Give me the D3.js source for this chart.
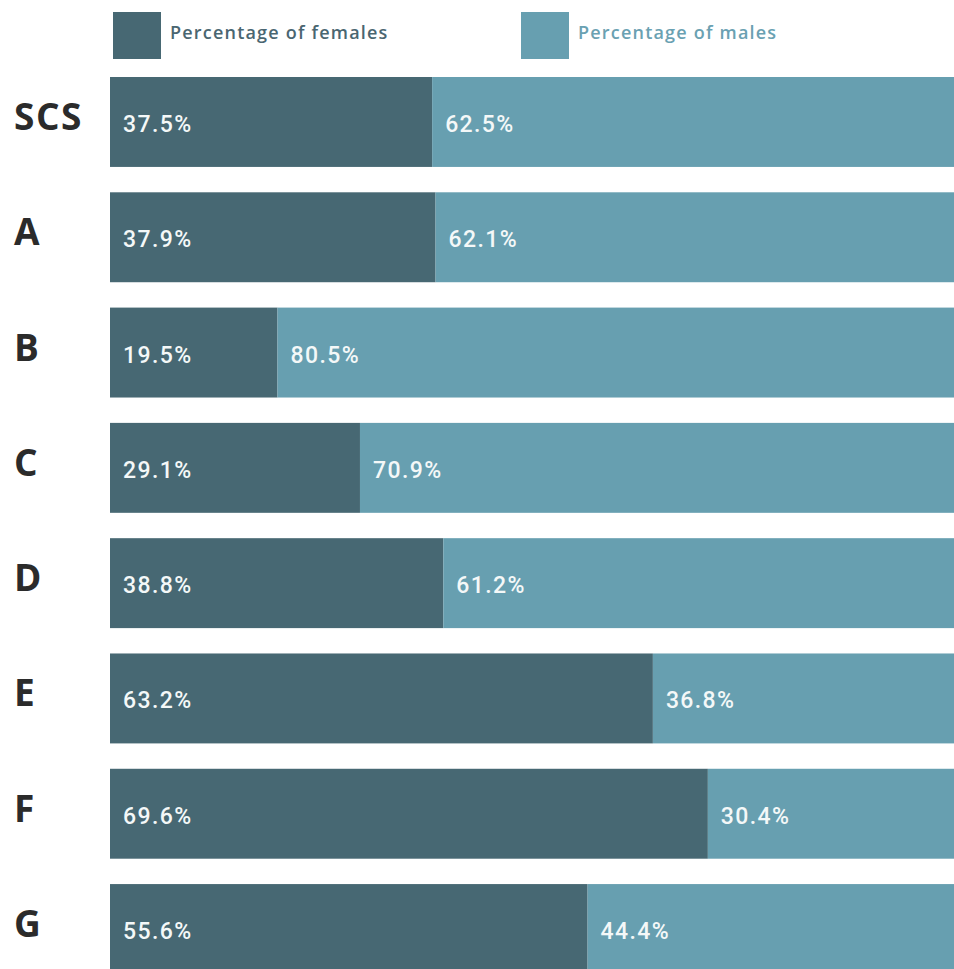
<!DOCTYPE html>
<html>
<head>
<meta charset="utf-8">
<script src="https://cdnjs.cloudflare.com/ajax/libs/d3/7.8.5/d3.min.js"></script>
<style>
  body { margin: 0; background: #fff; overflow: hidden; }
</style>
</head>
<body>
<div id="chart"></div>
<script>
(function () {

  // Data

  var groups = ["SCS", "A", "B", "C", "D", "E", "F", "G"]
  var females = [37.5, 37.9, 19.5, 29.1, 38.8, 63.2, 69.6, 55.6]
  var males = [62.5, 62.1, 80.5, 70.9, 61.2, 36.8, 30.4, 44.4]
  var seriesNames = ["Percentage of females", "Percentage of males"]

  var width = 954,
      height = 969

  var svg = d3.select("#chart").append("svg")
      .attr("width", width)
      .attr("height", height)

  // Scales

  var x = d3.scaleLinear()
    .domain([0, 100])
    .range([110, 969])

  var y = d3.scaleBand()
    .domain(groups)
    .range([77, 974])
    .paddingInner(0.22)

  var colorScale = d3.scaleOrdinal()
    .domain(seriesNames)
    .range(["#476873", "#679fb0"])

  var textColor = d3.scaleOrdinal()
    .domain(seriesNames)
    .range(["#4a6671", "#6aa1b2"])

  var rows = groups.map(function (g, i) {
    return { group: g, female: females[i], male: males[i] }
  })

  // Legend

  var legend = svg.selectAll(".legend")
    .data(seriesNames)
    .enter().append("g")
    .attr("class", "legend")
    .attr("transform", function (d, i) {
      return "translate(" + (i === 0 ? 113 : 521) + ",12)"
    })

  legend.append("rect")
    .attr("width", 48)
    .attr("height", 47)
    .attr("fill", function (d) { return colorScale(d) })

  legend.append("text")
    .attr("x", 57)
    .attr("y", 27)
    .attr("font-family", "'Open Sans', sans-serif")
    .attr("font-weight", 600)
    .attr("font-size", 18)
    .attr("letter-spacing", 1.2)
    .attr("fill", function (d) { return textColor(d) })
    .text(function (d) { return d })

  // Bars

  var row = svg.selectAll(".row")
    .data(rows)
    .enter().append("g")
    .attr("class", "row")
    .attr("transform", function (d) { return "translate(0," + y(d.group) + ")" })

  row.append("rect")
    .attr("x", x(0))
    .attr("width", function (d) { return x(d.female) - x(0) })
    .attr("height", y.bandwidth())
    .attr("fill", colorScale(seriesNames[0]))

  row.append("rect")
    .attr("x", function (d) { return x(d.female) })
    .attr("width", function (d) { return x(d.female + d.male) - x(d.female) })
    .attr("height", y.bandwidth())
    .attr("fill", colorScale(seriesNames[1]))

  var labelFont = "Roboto, sans-serif"

  row.append("text")
    .attr("x", x(0) + 13)
    .attr("y", y.bandwidth() / 2 + 10)
    .attr("font-family", labelFont)
    .attr("font-weight", 500)
    .attr("font-size", 23)
    .attr("letter-spacing", 1.4)
    .attr("fill", "#f4f8f8")
    .text(function (d) { return d.female.toFixed(1) + "%" })

  row.append("text")
    .attr("x", function (d) { return x(d.female) + 13 })
    .attr("y", y.bandwidth() / 2 + 10)
    .attr("font-family", labelFont)
    .attr("font-weight", 500)
    .attr("font-size", 23)
    .attr("letter-spacing", 1.4)
    .attr("fill", "#f4f8f8")
    .text(function (d) { return d.male.toFixed(1) + "%" })

  // Group labels

  row.append("text")
    .attr("x", 14)
    .attr("y", y.bandwidth() / 2 + 8)
    .attr("font-family", "'Open Sans', sans-serif")
    .attr("font-weight", "bold")
    .attr("font-size", 37)
    .attr("letter-spacing", 1.5)
    .attr("fill", "#2b2b2b")
    .text(function (d) { return d.group })

})()
</script>
</body>
</html>
